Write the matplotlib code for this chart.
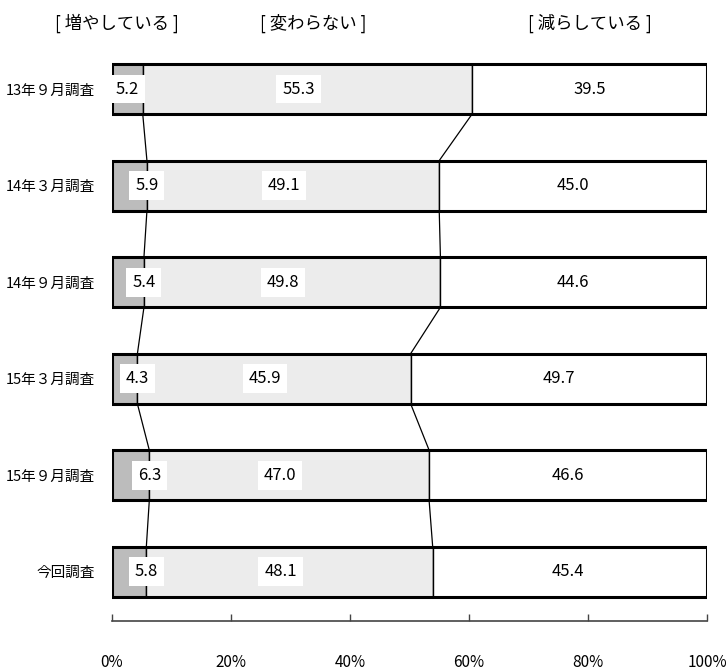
import matplotlib.pyplot as plt
import numpy as np

plt.rcParams['font.family'] = ['Noto Sans CJK JP', 'DejaVu Sans']

# survey rounds (top to bottom)
surveys = ['13年９月調査', '14年３月調査', '14年９月調査', '15年３月調査', '15年９月調査', '今回調査']
increase = [5.2, 5.9, 5.4, 4.3, 6.3, 5.8]
same = [55.3, 49.1, 49.8, 45.9, 47.0, 48.1]
decrease = [39.5, 45.0, 44.6, 49.7, 46.6, 45.4]
headers = ['[ 増やしている ]', '[ 変わらない ]', '[ 減らしている ]']
ticks = [0, 20, 40, 60, 80, 100]

fig = plt.figure(figsize=(7.26, 6.71), dpi=100)
ax = fig.add_axes([0.154, 0.0745, 0.82, 0.866])

y = np.arange(len(surveys))
h = 0.52
inc = np.array(increase)
mid = np.array(same)
dec = np.array(decrease)
c1 = inc
c2 = inc + mid

ax.barh(y, inc, height=h, color='#bcbcbc', edgecolor='black', linewidth=1)
ax.barh(y, mid, left=c1, height=h, color='#ececec', edgecolor='black', linewidth=1)
# last segment fills up to 100% (rounding)
ax.barh(y, 100 - c2, left=c2, height=h, color='white', edgecolor='black', linewidth=1)
# thick outer frame
ax.barh(y, 100, height=h, color='none', edgecolor='black', linewidth=2.2)

# connecting lines between rows
for i in range(len(y) - 1):
    for c in (c1, c2):
        ax.plot([c[i], c[i + 1]], [y[i] + h / 2, y[i + 1] - h / 2], color='black', lw=0.9)

box = dict(boxstyle='square,pad=0.35', fc='white', ec='none')
for i in range(len(y)):
    x1 = inc[i] / 2 if i == 0 else inc[i]
    ax.text(x1, y[i], f'{inc[i]:.1f}', ha='center', va='center', fontsize=12, bbox=box)
    ax.text(c1[i] + mid[i] / 2 - 1.5, y[i], f'{mid[i]:.1f}', ha='center', va='center', fontsize=12, bbox=box)
    ax.text(c2[i] + dec[i] / 2, y[i], f'{dec[i]:.1f}', ha='center', va='center', fontsize=12)

ax.set_xlim(0, 100)
ax.set_ylim(5.51, -0.51)
ax.set_yticks(y)
ax.set_yticklabels(surveys, fontsize=10.5)
ax.tick_params(axis='y', length=0, pad=12)
ax.set_xticks(ticks)
ax.set_xticklabels([f'{t}%' for t in ticks], fontsize=11)
ax.tick_params(axis='x', direction='in', length=5, width=1, color='#444444', pad=24)

for s in ('top', 'left', 'right'):
    ax.spines[s].set_visible(False)
ax.spines['bottom'].set_color('#444444')
ax.spines['bottom'].set_linewidth(1.2)

for name, xp in zip(headers, [117, 313, 590]):
    fig.text(xp / 726, 1 - 23 / 671, name, ha='center', va='center', fontsize=12.5)

fig.savefig('out.png', dpi=100)
